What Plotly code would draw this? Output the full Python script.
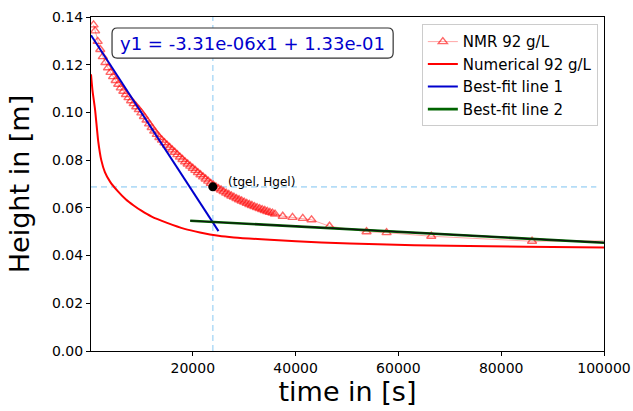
import plotly.graph_objects as go

# ---------------- data ----------------
nmr_t = [700, 1000, 1500, 2000, 2500, 3000, 3500, 4000, 4500, 5000, 5500, 6000,
         6500, 7000, 7500, 8000, 8500, 9000, 9500, 10000, 10500, 11000, 11500,
         12000, 12500, 13000, 13500, 14000, 14500, 15000, 15500, 16000, 16500,
         17000, 17500, 18000, 18500, 19000, 19500, 20000, 20500, 21000, 21500,
         22000, 22500, 23000, 23500, 24000, 24500, 25000, 25500, 26000, 26500,
         27000, 27500, 28000, 28500, 29000, 29500, 30000, 30500, 31000, 31500,
         32000, 32500, 33000, 33500, 34000, 34500, 35000, 35500, 36000,
         37500, 39400, 41400, 43100, 46600, 53800, 57700, 66400, 86000, 110000]
nmr_h = [0.1367, 0.1342, 0.1298, 0.1264, 0.1234, 0.1209, 0.1187, 0.1168, 0.1150,
         0.1134, 0.1118, 0.1103, 0.1089, 0.1075, 0.1062, 0.1049, 0.1037, 0.1024,
         0.1012, 0.0998, 0.0983, 0.0968, 0.0952, 0.0937, 0.0922, 0.0908, 0.0895,
         0.0884, 0.0873, 0.0863, 0.0853, 0.0843, 0.0833, 0.0823, 0.0813, 0.0803,
         0.0793, 0.0784, 0.0775, 0.0766, 0.0757, 0.0748, 0.0739, 0.0730, 0.0721,
         0.0712, 0.0703, 0.0695, 0.0688, 0.0681, 0.0675, 0.0668, 0.0662, 0.0656,
         0.0650, 0.0645, 0.0639, 0.0634, 0.0629, 0.0624, 0.0619, 0.0614, 0.0610,
         0.0605, 0.0601, 0.0597, 0.0593, 0.0589, 0.0585, 0.0581, 0.0578, 0.0574,
         0.0565, 0.0560, 0.0556, 0.0550, 0.0523, 0.0500, 0.0496, 0.0481, 0.0460,
         0.0463]

num_t = [200, 500, 1000, 1600, 2200, 2900, 3900, 5400, 7000, 8500, 10000, 12000,
         15000, 18400, 21400, 25000, 28000, 35000, 45000, 56000, 70000, 85000,
         100000]
num_h = [0.116, 0.109, 0.101, 0.088, 0.080, 0.0750, 0.0710, 0.0670, 0.0635,
         0.0610, 0.0588, 0.0563, 0.0537, 0.0512, 0.0497, 0.0483, 0.0476, 0.0466,
         0.0455, 0.0447, 0.0441, 0.0437, 0.0434]

fit1_slope = -3.31e-06
fit1_icept = 1.33e-01
fit1_t = [200, 25000]

fit2_t = [19500, 100000]
fit2_h = [0.0546, 0.0454]

tgel = 23900
Hgel = 0.0688

eq_text = "y1 = -3.31e-06x1 + 1.33e-01"
x_ticks = [20000, 40000, 60000, 80000, 100000]
y_ticks = [0.00, 0.02, 0.04, 0.06, 0.08, 0.10, 0.12, 0.14]

fit1_h = [fit1_slope * t + fit1_icept for t in fit1_t]

FONT = "DejaVu Sans"

fig = go.Figure()

fig.add_trace(go.Scatter(
    x=nmr_t, y=nmr_h, mode="lines+markers", name="NMR 92 g/L",
    line=dict(color="rgba(255,60,60,0.45)", width=1),
    marker=dict(symbol="triangle-up-open", size=8,
                color="rgba(255,0,0,0.6)", line=dict(width=1.4, color="rgba(255,0,0,0.6)")),
))
fig.add_trace(go.Scatter(
    x=num_t, y=num_h, mode="lines", name="Numerical 92 g/L",
    line=dict(color="#ff0000", width=2, shape="spline", smoothing=0.6),
))
fig.add_trace(go.Scatter(
    x=fit1_t, y=fit1_h, mode="lines", name="Best-fit line 1",
    line=dict(color="#0000cd", width=2),
))
fig.add_trace(go.Scatter(
    x=fit2_t, y=fit2_h, mode="lines", name="Best-fit line 2",
    line=dict(color="#006400", width=2.6),
))
fig.add_trace(go.Scatter(
    x=fit2_t, y=fit2_h, mode="lines", showlegend=False, hoverinfo="skip",
    line=dict(color="#111111", width=1.2),
))
fig.add_trace(go.Scatter(
    x=[tgel], y=[Hgel], mode="markers", showlegend=False,
    marker=dict(color="black", size=9),
))

# dashed guide lines
fig.add_shape(type="line", xref="x", yref="paper", x0=tgel, x1=tgel, y0=0, y1=1,
              line=dict(color="#b5ddf7", width=1.6, dash="6px,4px"), layer="below")
fig.add_shape(type="line", xref="paper", yref="y", x0=0, x1=0.985, y0=Hgel, y1=Hgel,
              line=dict(color="#b5ddf7", width=1.6, dash="6px,4px"), layer="below")

# rounded equation box
x0, x1, y0, y1 = 0.041, 0.589, 0.877, 0.967
rx, ry = 0.010, 0.016
path = (f"M {x0+rx},{y0} L {x1-rx},{y0} Q {x1},{y0} {x1},{y0+ry} "
        f"L {x1},{y1-ry} Q {x1},{y1} {x1-rx},{y1} L {x0+rx},{y1} "
        f"Q {x0},{y1} {x0},{y1-ry} L {x0},{y0+ry} Q {x0},{y0} {x0+rx},{y0} Z")
fig.add_shape(type="path", xref="paper", yref="paper", path=path,
              fillcolor="white", line=dict(color="#333333", width=1.2), layer="above")
fig.add_annotation(xref="paper", yref="paper", x=(x0 + x1) / 2, y=(y0 + y1) / 2,
                   xanchor="center", yanchor="middle",
                   text=eq_text, showarrow=False,
                   font=dict(family=FONT, size=18, color="#0000cd"))

fig.add_annotation(x=26500, y=0.0710, xref="x", yref="y", text="(tgel, Hgel)",
                   showarrow=False, xanchor="left", yanchor="middle",
                   font=dict(family=FONT, size=12, color="black"))

fig.update_layout(
    width=633, height=411,
    margin=dict(l=91, r=29, t=17, b=60, autoexpand=False),
    paper_bgcolor="white", plot_bgcolor="white",
    font=dict(family=FONT, color="black"),
    legend=dict(x=0.988, y=0.978, xanchor="right", yanchor="top",
                bgcolor="white", bordercolor="#cccccc", borderwidth=1,
                font=dict(family=FONT, size=15), tracegroupgap=0,
                itemwidth=30),
)
fig.update_xaxes(
    range=[200, 100000], tickvals=x_ticks, ticktext=[str(v) for v in x_ticks],
    showgrid=False, zeroline=False, showline=True, linecolor="black", linewidth=1.3,
    mirror=True, ticks="outside", ticklen=4, tickcolor="black", automargin=False,
    tickfont=dict(family=FONT, size=14),
    title=dict(text="time in [s]", font=dict(family=FONT, size=27), standoff=5),
)
fig.update_yaxes(
    range=[0, 0.14], tickvals=y_ticks, ticktext=[f"{v:.2f}" for v in y_ticks],
    showgrid=False, zeroline=False, showline=True, linecolor="black", linewidth=1.3,
    mirror=True, ticks="outside", ticklen=4, tickcolor="black", automargin=False,
    tickfont=dict(family=FONT, size=14),
    title=dict(text="Height in [m]", font=dict(family=FONT, size=27), standoff=14),
)

fig.write_html("out.html")
